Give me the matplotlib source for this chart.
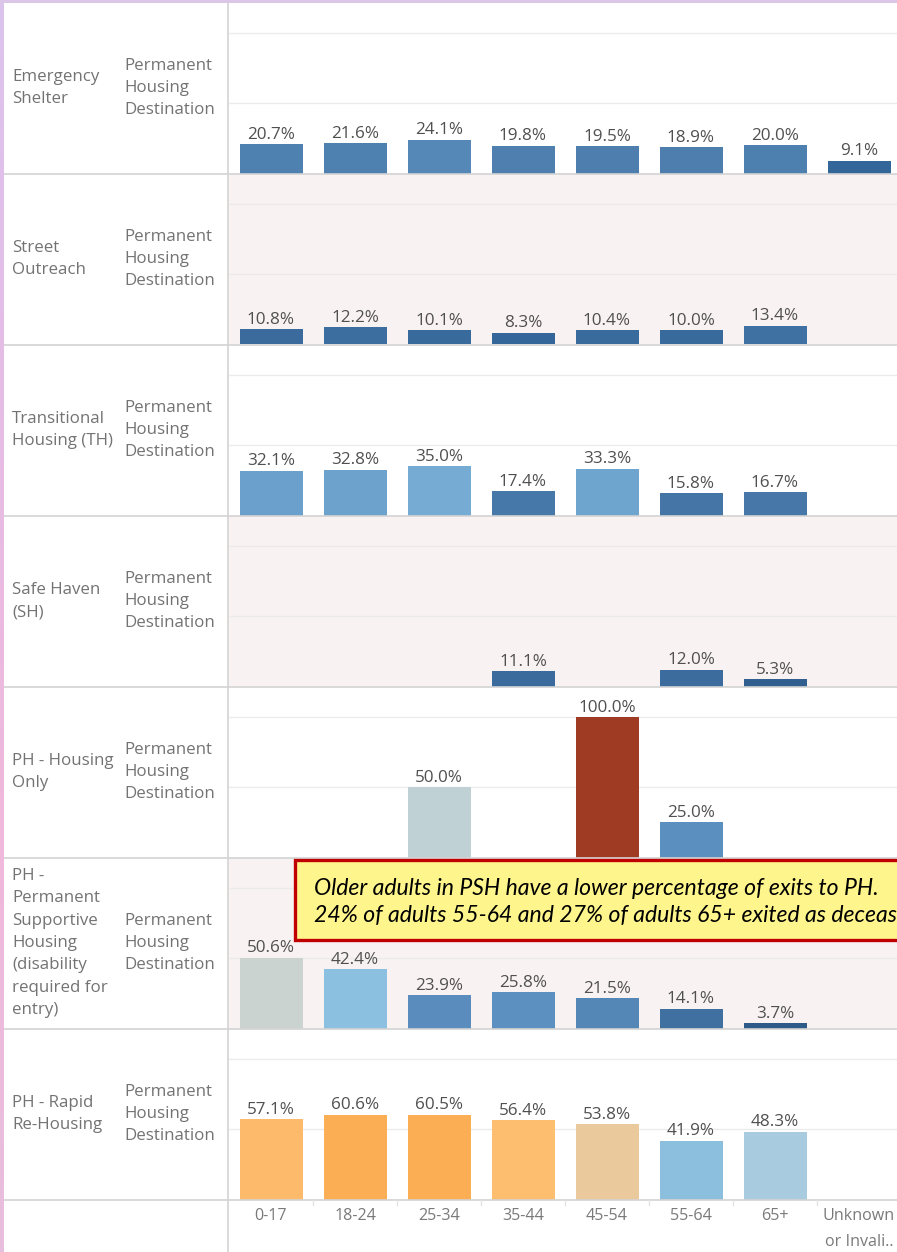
import numpy as np
import matplotlib.pyplot as plt
from matplotlib.patches import Rectangle
from matplotlib.colors import LinearSegmentedColormap

# age groups along the bottom axis
age_groups = ["0-17", "18-24", "25-34", "35-44", "45-54", "55-64", "65+", "Unknown\nor Invali.."]

# project types (row headers) and measure name
project_types = [
    "Emergency\nShelter",
    "Street\nOutreach",
    "Transitional\nHousing (TH)",
    "Safe Haven\n(SH)",
    "PH - Housing\nOnly",
    "PH -\nPermanent\nSupportive\nHousing\n(disability\nrequired for\nentry)",
    "PH - Rapid\nRe-Housing",
]
measure_name = "Permanent\nHousing\nDestination"

nan = np.nan
# percent of exits to a permanent housing destination
es_pct = [20.7, 21.6, 24.1, 19.8, 19.5, 18.9, 20.0, 9.1]
so_pct = [10.8, 12.2, 10.1, 8.3, 10.4, 10.0, 13.4, nan]
th_pct = [32.1, 32.8, 35.0, 17.4, 33.3, 15.8, 16.7, nan]
sh_pct = [nan, nan, nan, 11.1, nan, 12.0, 5.3, nan]
ph_ho_pct = [nan, nan, 50.0, nan, 100.0, 25.0, nan, nan]
ph_psh_pct = [50.6, 42.4, 23.9, 25.8, 21.5, 14.1, 3.7, nan]
ph_rrh_pct = [57.1, 60.6, 60.5, 56.4, 53.8, 41.9, 48.3, nan]
rows = [es_pct, so_pct, th_pct, sh_pct, ph_ho_pct, ph_psh_pct, ph_rrh_pct]

# bar colours per row
es_col = ["#4f81b0", "#4f81b0", "#5587b7", "#4e7fae", "#4d7ead", "#4d7ead", "#4e80af", "#33679a"]
so_col = ["#3a6b9c", "#3c6e9f", "#386a9b", "#35669a", "#396b9c", "#386a9b", "#3f71a2", "#3a6b9c"]
th_col = ["#6aa0cb", "#6ca2cc", "#76acd3", "#4679a9", "#6ea5cf", "#4475a6", "#4677a8", "#4677a8"]
sh_col = ["#3a6b9c", "#3a6b9c", "#3a6b9c", "#3a6b9c", "#3a6b9c", "#3b6c9d", "#305f90", "#3a6b9c"]
ph_ho_col = ["#c0d1d5", "#c0d1d5", "#c0d1d5", "#c0d1d5", "#9e3b22", "#5b8fc0", "#5b8fc0", "#5b8fc0"]
ph_psh_col = ["#cad3d0", "#8bc0e0", "#5a8dbd", "#5c90c0", "#5486b6", "#3f70a0", "#2c5b8a", "#2c5b8a"]
ph_rrh_col = ["#fdba6a", "#fbae54", "#fbae54", "#fdbf6f", "#eac99d", "#8cbedd", "#a9cbdf", "#a9cbdf"]
row_colors = [es_col, so_col, th_col, sh_col, ph_ho_col, ph_psh_col, ph_rrh_col]

note_text = ("Older adults in PSH have a lower percentage of exits to PH.\n"
             "24% of adults 55-64 and 27% of adults 65+ exited as deceased.")

W, H = 897, 1252
ROW_TOP, ROW_H = 2.5, 171
PLOT_X0, STEP = 229, 84
FONT = ["Open Sans", "DejaVu Sans"]
NOTE_FONT = ["Lato", "DejaVu Sans"]

fig = plt.figure(figsize=(W / 100, H / 100), dpi=100)
fig.patch.set_facecolor("white")


def px_axes(x0, y0, w, h):
    return fig.add_axes([x0 / W, 1 - (y0 + h) / H, w / W, h / H])


x = np.arange(len(age_groups))
for i, (vals, cols) in enumerate(zip(rows, row_colors)):
    ax = px_axes(PLOT_X0, ROW_TOP + ROW_H * i, STEP * len(age_groups), ROW_H)
    ax.set_facecolor("#f9f2f2" if i % 2 == 1 else "white")
    ax.set_xlim(-0.5, len(age_groups) - 0.5)
    ax.set_ylim(0, 122)
    for s in ax.spines.values():
        s.set_visible(False)
    ax.set_xticks([])
    ax.set_yticks([])
    for g in (50, 100):
        ax.axhline(g, color="#ebebeb", lw=1, zorder=0)
    v = np.array(vals, dtype=float)
    ax.bar(x, np.nan_to_num(v), width=0.75, color=cols, zorder=2,
           edgecolor="none")
    for xi, vi in zip(x, v):
        if np.isnan(vi):
            continue
        ax.annotate(f"{vi:.1f}%", (xi, vi), xytext=(0, 1), textcoords="offset points",
                    ha="center", va="bottom", fontsize=12.3, color="#505050",
                    family=FONT, zorder=3)

# overlay for headers, separators and the note
ov = fig.add_axes([0, 0, 1, 1], facecolor="none")
ov.set_xlim(0, W)
ov.set_ylim(H, 0)
ov.axis("off")

for i in range(1, len(project_types) + 1):
    y = ROW_TOP + ROW_H * i
    ov.plot([4, W], [y, y], color="#d3d3d3", lw=1.2)
ov.plot([228, 228], [0, H], color="#d3d3d3", lw=1.2)

for i, name in enumerate(project_types):
    yc = ROW_TOP + ROW_H * (i + 0.5)
    ov.text(12, yc, name, ha="left", va="center", fontsize=12.2, color="#737373",
            family=FONT, linespacing=1.54)
    ov.text(124, yc, measure_name, ha="left", va="center", fontsize=12.2, color="#737373",
            family=FONT, linespacing=1.54)

# category axis at the bottom
base = ROW_TOP + ROW_H * len(project_types)
for k, lab in enumerate(age_groups):
    xc = PLOT_X0 + STEP * (k + 0.5)
    ov.text(xc, base + 9, lab, ha="center", va="top", fontsize=11.6, color="#7a7a7a",
            family=FONT, linespacing=1.75)
    if k > 0:
        xb = PLOT_X0 + STEP * k
        ov.plot([xb, xb], [base, base + 5], color="#e3e3e3", lw=1)

# callout box
ov.add_patch(Rectangle((295, 860), 640, 80, facecolor="#fef68c", edgecolor="#c00000",
                       lw=2.4, zorder=5))
ov.text(314, 902, note_text, ha="left", va="center", fontsize=16.6, style="italic",
        color="black", family=NOTE_FONT, linespacing=1.32, zorder=6)

# coloured frame on the top and left edges
cmap = LinearSegmentedColormap.from_list("edge", ["#dcc4ee", "#e6bce6", "#f0b8dc", "#e8bedf"])
edge = fig.add_axes([0, 0, 4 / W, 1])
edge.imshow(np.linspace(0, 1, 256).reshape(-1, 1), aspect="auto", cmap=cmap)
edge.axis("off")
top = fig.add_axes([0, 1 - 3 / H, 1, 3 / H])
top.set_facecolor("#dbc6e8")
top.set_xticks([])
top.set_yticks([])
for s in top.spines.values():
    s.set_visible(False)

fig.savefig("out.png", dpi=100)
